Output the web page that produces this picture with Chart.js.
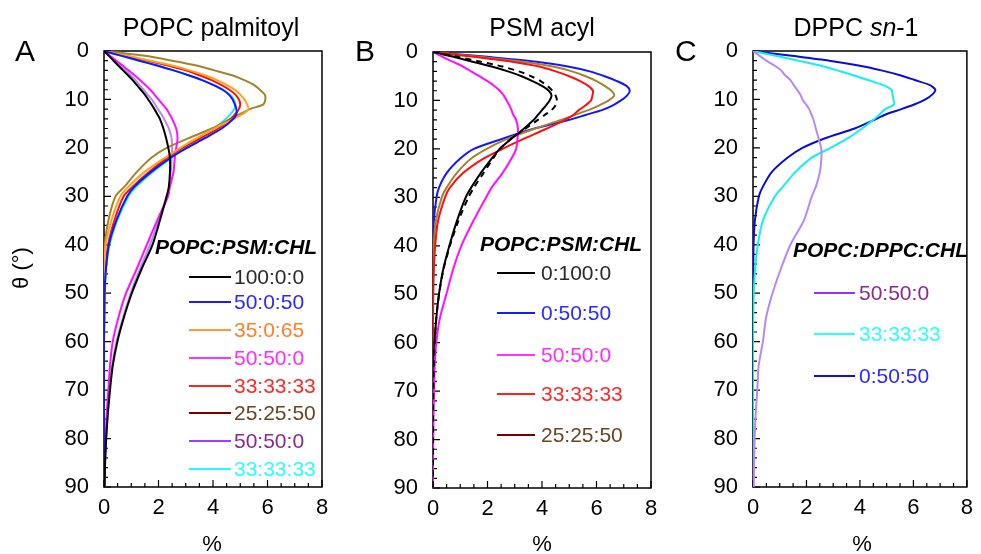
<!DOCTYPE html>
<html>
<head>
<meta charset="utf-8">
<script src="https://cdn.jsdelivr.net/npm/chart.js"></script>
<style>
  body { margin: 0; background: #fff; }
  #wrap { position: relative; width: 981px; height: 554px; }
  canvas { position: absolute; left: 0; top: 0; }
</style>
</head>
<body>
<div id="wrap">
  <canvas id="panelA" width="981" height="554"></canvas>
  <canvas id="panelB" width="981" height="554"></canvas>
  <canvas id="panelC" width="981" height="554"></canvas>
</div>
<script>
// theta (deg) sample points shared by all curves
const theta = [0,1,2,3,4,5,6,7,8,9,10,11,12,13,14,16,18,20,22,25,28,30,35,40,45,50,55,60,65,70,75,80,85,90];

// Panel A - POPC palmitoyl (% per theta)
const a100_0_0 = [0,0.18,0.35,0.52,0.7,0.88,1.05,1.2,1.35,1.5,1.62,1.74,1.85,1.95,2.05,2.18,2.28,2.36,2.42,2.42,2.38,2.3,2.05,1.78,1.38,1.02,0.73,0.49,0.32,0.22,0.14,0.08,0.04,0.02];
const a50_0_50 = [0,0.65,1.3,1.95,2.55,3.1,3.6,4.0,4.35,4.58,4.72,4.8,4.86,4.86,4.75,4.32,3.7,3.05,2.45,1.72,1.12,0.85,0.45,0.18,0.07,0.02,0.01,0,0,0,0,0,0,0];
const a35_0_65 = [0,0.85,1.7,2.5,3.15,3.7,4.15,4.5,4.8,5.0,5.15,5.25,5.3,5.1,4.75,4.05,3.4,2.8,2.25,1.48,0.9,0.6,0.27,0.06,0.02,0.01,0,0,0,0,0,0,0,0];
const a50_50_0 = [0,0.22,0.45,0.68,0.9,1.12,1.32,1.52,1.7,1.85,2.0,2.15,2.3,2.4,2.5,2.65,2.7,2.65,2.6,2.55,2.42,2.35,1.95,1.57,1.2,0.81,0.53,0.32,0.22,0.16,0.1,0.06,0.03,0.02];
const a33_33_33 = [0,0.8,1.6,2.35,3.0,3.5,3.95,4.3,4.6,4.82,4.95,5.0,4.95,4.82,4.65,4.2,3.55,2.88,2.32,1.65,1.05,0.72,0.38,0.15,0.06,0.02,0.01,0,0,0,0,0,0,0];
const a25_25_50 = [0,1.5,2.5,3.4,4.05,4.7,5.15,5.5,5.72,5.9,5.92,5.85,5.35,5.0,4.65,3.95,3.1,2.3,1.75,1.2,0.75,0.42,0.16,0.03,0.01,0,0,0,0,0,0,0,0,0];
const aDppc50_50_0 = [0,0.2,0.4,0.6,0.8,0.98,1.15,1.3,1.45,1.6,1.75,1.87,1.98,2.1,2.2,2.38,2.48,2.5,2.48,2.45,2.4,2.3,2.0,1.69,1.32,0.98,0.7,0.46,0.3,0.2,0.13,0.08,0.04,0.02];
const aDppc33_33_33 = [0,0.65,1.3,1.95,2.55,3.1,3.6,4.02,4.38,4.62,4.76,4.82,4.78,4.65,4.48,4.05,3.55,2.98,2.48,1.78,1.18,0.9,0.48,0.2,0.08,0.03,0.01,0,0,0,0,0,0,0];

// Panel B - PSM acyl
const b0_100_0 = [0,0.75,1.45,2.15,2.75,3.25,3.65,4.0,4.25,4.35,4.28,4.15,4.0,3.85,3.7,3.3,2.85,2.45,2.15,1.75,1.4,1.2,0.87,0.6,0.37,0.22,0.12,0.06,0.03,0.01,0,0,0,0];
const b0_100_0_dash = [0,0.9,1.75,2.55,3.15,3.6,3.95,4.2,4.38,4.5,4.55,4.5,4.35,4.1,3.85,3.35,2.85,2.45,2.2,1.85,1.5,1.3,0.92,0.62,0.38,0.22,0.12,0.06,0.03,0.01,0,0,0,0];
const b0_50_50 = [0,2.0,3.8,4.95,5.75,6.3,6.75,7.1,7.22,7.12,6.9,6.6,6.2,5.6,5.0,3.6,2.5,1.5,1.0,0.5,0.22,0.13,0.03,0.01,0,0,0,0,0,0,0,0,0,0];
const b50_50_0 = [0,0.35,0.72,1.1,1.4,1.7,2.0,2.25,2.45,2.6,2.7,2.8,2.88,2.95,3.05,3.12,3.1,3.05,2.88,2.55,2.15,1.95,1.47,1.04,0.73,0.49,0.25,0.12,0.06,0.04,0.02,0.01,0,0];
const b33_33_33 = [0,1.5,2.9,3.9,4.5,5.0,5.4,5.7,5.87,5.85,5.8,5.6,5.35,5.15,4.85,4.1,3.3,2.55,1.85,1.1,0.62,0.44,0.18,0.08,0.03,0.01,0,0,0,0,0,0,0,0];
const b25_25_50 = [0,1.7,3.3,4.4,5.1,5.6,6.0,6.3,6.55,6.65,6.45,6.1,5.7,5.2,4.7,3.65,2.7,1.97,1.4,0.87,0.5,0.32,0.1,0.03,0.01,0,0,0,0,0,0,0,0,0];

// Panel C - DPPC sn-1
const c50_50_0 = [0,0.25,0.5,0.8,1.05,1.2,1.4,1.52,1.65,1.77,1.85,1.98,2.1,2.18,2.25,2.35,2.45,2.55,2.56,2.5,2.35,2.2,1.9,1.4,1.04,0.73,0.49,0.37,0.21,0.16,0.1,0.06,0.04,0.03];
const c33_33_33 = [0,0.85,1.7,2.5,3.15,3.75,4.3,4.85,5.18,5.22,5.25,5.28,4.95,4.75,4.55,4.08,3.55,2.9,2.2,1.58,1.12,0.82,0.37,0.18,0.08,0.03,0.01,0,0,0,0,0,0,0];
const c0_50_50 = [0,1.45,2.85,3.95,4.8,5.5,6.05,6.6,6.82,6.7,6.45,6.05,5.55,5.0,4.62,3.8,2.7,1.85,1.3,0.7,0.37,0.22,0.07,0.02,0.01,0,0,0,0,0,0,0,0,0];

// legend labels
const legendA = ["100:0:0", "50:0:50", "35:0:65", "50:50:0", "33:33:33", "25:25:50", "50:50:0", "33:33:33"];
const legendB = ["0:100:0", "0:50:50", "50:50:0", "33:33:33", "25:25:50"];
const legendC = ["50:50:0", "33:33:33", "0:50:50"];

const FONT = "'Liberation Sans', Arial, Helvetica, sans-serif";

function pts(vals) {
    return vals.map((v, i) => ({x: v, y: theta[i]}));
}

function ds(vals, color, dash) {
    return {
        data: pts(vals),
        showLine: true,
        borderColor: color,
        borderWidth: 2,
        borderDash: dash || [],
        pointRadius: 0,
        tension: 0.25
    };
}

const decor = {
    id: "decor",
    beforeDatasetsDraw(chart, args, o) {
        const ctx = chart.ctx;
        const a = chart.chartArea;
        const x = chart.scales.x, y = chart.scales.y;
        ctx.save();
        ctx.strokeStyle = "#000";
        ctx.lineWidth = 1.5;
        ctx.strokeRect(a.left, a.top, a.right - a.left, a.bottom - a.top);
        ctx.lineWidth = 1.2;
        ctx.beginPath();
        for (let v = 0; v <= 90; v += 2) {
            const py = y.getPixelForValue(v);
            const len = v % 10 === 0 ? 7 : 4;
            ctx.moveTo(a.left, py);
            ctx.lineTo(a.left + len, py);
        }
        for (let v = 0; v <= 8; v += 0.5) {
            const px = x.getPixelForValue(v);
            const len = v % 2 === 0 ? 7 : 4;
            ctx.moveTo(px, a.bottom);
            ctx.lineTo(px, a.bottom - len);
        }
        ctx.stroke();
        ctx.restore();
    },
    afterDraw(chart, args, o) {
        const ctx = chart.ctx;
        ctx.save();
        ctx.fillStyle = "#000";

        // panel title (may have italic parts)
        let total = 0;
        o.title.forEach(s => {
            ctx.font = (s.i ? "italic " : "") + "25px " + FONT;
            s.w = ctx.measureText(s.t).width;
            total += s.w;
        });
        let tx = o.titleX - total / 2;
        ctx.textBaseline = "alphabetic";
        ctx.textAlign = "left";
        o.title.forEach(s => {
            ctx.font = (s.i ? "italic " : "") + "25px " + FONT;
            ctx.fillText(s.t, tx, 36);
            tx += s.w;
        });

        // panel letter
        ctx.font = "30px " + FONT;
        ctx.fillText(o.letter, o.letterX, 61);

        // axis labels
        ctx.font = "22px " + FONT;
        ctx.textAlign = "center";
        ctx.textBaseline = "middle";
        ctx.fillText("%", o.xLabelX, 545);
        if (o.yLabel) {
            ctx.save();
            ctx.translate(22, 268);
            ctx.rotate(-Math.PI / 2);
            ctx.fillText("θ (°)", 0, 0);
            ctx.restore();
        }

        // legend
        ctx.textAlign = "left";
        ctx.textBaseline = "alphabetic";
        ctx.font = "italic bold 21px " + FONT;
        ctx.fillText(o.legTitle, o.legTitleX, o.legTitleY);
        ctx.font = "21px " + FONT;
        ctx.textBaseline = "middle";
        o.items.forEach((it, i) => {
            ctx.strokeStyle = it.line;
            ctx.lineWidth = 2;
            ctx.beginPath();
            ctx.moveTo(o.lx1, it.y);
            ctx.lineTo(o.lx2, it.y);
            ctx.stroke();
            ctx.fillStyle = it.text;
            ctx.fillText(o.labels[i], o.tx, it.y + 1);
        });
        ctx.restore();
    }
};

function makePanel(id, p) {
    new Chart(document.getElementById(id), {
        type: "scatter",
        data: {datasets: p.datasets},
        plugins: [decor],
        options: {
            responsive: false,
            animation: false,
            devicePixelRatio: 1,
            layout: {padding: {left: p.padLeft, right: p.padRight, top: p.top, bottom: 0}},
            plugins: {
                legend: {display: false},
                tooltip: {enabled: false},
                decor: p.decor
            },
            scales: {
                x: {
                    type: "linear", min: 0, max: 8,
                    ticks: {stepSize: 2, color: "#000", padding: 8, font: {family: FONT, size: 22}},
                    grid: {display: false, drawTicks: false},
                    border: {display: false},
                    afterFit: s => { s.height = 554 - p.bottom; }
                },
                y: {
                    type: "linear", min: 0, max: 90, reverse: true,
                    ticks: {stepSize: 10, color: "#000", padding: 15, font: {family: FONT, size: 22}},
                    grid: {display: false, drawTicks: false},
                    border: {display: false},
                    afterFit: s => { s.width = p.yWidth; }
                }
            }
        }
    });
}

makePanel("panelA", {
    padLeft: 0, yWidth: 104, padRight: 981 - 322, top: 51, bottom: 487,
    datasets: [
        ds(a100_0_0, "#000000"),
        ds(a50_0_50, "#1515ff"),
        ds(a35_0_65, "#ffa31a"),
        ds(a50_50_0, "#ff10ff"),
        ds(a33_33_33, "#ff1010"),
        ds(a25_25_50, "#a3842e"),
        ds(aDppc50_50_0, "#b888f2"),
        ds(aDppc33_33_33, "#12f0f0")
    ],
    decor: {
        title: [{t: "POPC palmitoyl"}], titleX: 211,
        letter: "A", letterX: 15, xLabelX: 212, yLabel: true,
        legTitle: "POPC:PSM:CHL", legTitleX: 155, legTitleY: 254,
        lx1: 189, lx2: 231, tx: 234, labels: legendA,
        items: [
            {y: 277, line: "#000000", text: "#2b2b2b"},
            {y: 302, line: "#1a1aff", text: "#2a2aff"},
            {y: 330, line: "#ff9a3a", text: "#ff7f2a"},
            {y: 358, line: "#ff33ff", text: "#ff2aff"},
            {y: 386, line: "#ff2020", text: "#ff2a2a"},
            {y: 413, line: "#7a0000", text: "#6b4423"},
            {y: 441, line: "#9a40ff", text: "#8b2a8b"},
            {y: 469, line: "#1affff", text: "#2affff"}
        ]
    }
});

makePanel("panelB", {
    padLeft: 330, yWidth: 103, padRight: 981 - 651, top: 52, bottom: 488,
    datasets: [
        ds(b0_100_0_dash, "#000000", [6, 5]),
        ds(b50_50_0, "#ff10ff"),
        ds(b0_100_0, "#000000"),
        ds(b33_33_33, "#ff1010"),
        ds(b25_25_50, "#a3842e"),
        ds(b0_50_50, "#1515ff")
    ],
    decor: {
        title: [{t: "PSM acyl"}], titleX: 542,
        letter: "B", letterX: 355, xLabelX: 542, yLabel: false,
        legTitle: "POPC:PSM:CHL", legTitleX: 480, legTitleY: 251,
        lx1: 497, lx2: 535, tx: 541, labels: legendB,
        items: [
            {y: 273, line: "#000000", text: "#2b2b2b"},
            {y: 313, line: "#1a1aff", text: "#2a2aff"},
            {y: 355, line: "#ff33ff", text: "#ff2aff"},
            {y: 394, line: "#ff2020", text: "#ff2a2a"},
            {y: 435, line: "#7a0000", text: "#6b4423"}
        ]
    }
});

makePanel("panelC", {
    padLeft: 655, yWidth: 98, padRight: 981 - 972, top: 51, bottom: 487,
    datasets: [
        ds(c50_50_0, "#b888f2"),
        ds(c33_33_33, "#12f0f0"),
        ds(c0_50_50, "#0b0bd8")
    ],
    decor: {
        title: [{t: "DPPC "}, {t: "sn", i: true}, {t: "-1"}], titleX: 856,
        letter: "C", letterX: 675, xLabelX: 862, yLabel: false,
        legTitle: "POPC:DPPC:CHL", legTitleX: 793, legTitleY: 257,
        lx1: 814, lx2: 855, tx: 859, labels: legendC,
        items: [
            {y: 293, line: "#9a30ff", text: "#8b2a8b"},
            {y: 334, line: "#2affff", text: "#2affff"},
            {y: 376, line: "#1010d0", text: "#2a2aff"}
        ]
    }
});
</script>
</body>
</html>
